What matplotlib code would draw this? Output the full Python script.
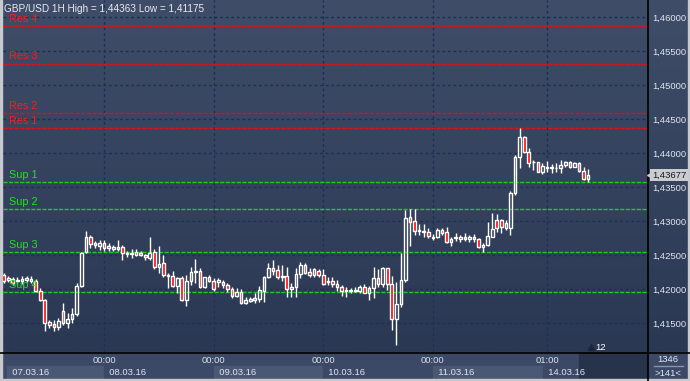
import numpy as np
import matplotlib.pyplot as plt
from matplotlib import transforms
from matplotlib.patches import Rectangle
from matplotlib.colors import LinearSegmentedColormap

plt.rcParams['font.family'] = ['Liberation Sans', 'DejaVu Sans']

# hourly GBP/USD candles, 07.03.16 - 14.03.16
opens = [
    1.42210, 1.42132, 1.42147, 1.42118, 1.42118, 1.42132, 1.42118, 1.42118, 1.41971, 1.41838,
    1.41515, 1.41485, 1.41441, 1.41672, 1.41500, 1.41563, 1.41632, 1.42040, 1.42540, 1.42760,
    1.42643, 1.42628, 1.42676, 1.42603, 1.42593, 1.42588, 1.42613, 1.42515, 1.42522, 1.42504,
    1.42529, 1.42496, 1.42456, 1.42540, 1.42319, 1.42382, 1.42191, 1.42187, 1.42040, 1.42162,
    1.41843, 1.42113, 1.42246, 1.42269, 1.42025, 1.42172, 1.42113, 1.42107, 1.42103, 1.42059,
    1.42000, 1.41897, 1.41960, 1.41790, 1.41828, 1.41838, 1.41848, 1.41975, 1.42172, 1.42304,
    1.42279, 1.42172, 1.42191, 1.41996, 1.42025, 1.42221, 1.42353, 1.42250, 1.42201, 1.42265,
    1.42201, 1.42103, 1.42118, 1.42069, 1.42025, 1.41966, 1.41966, 1.41966, 1.41966, 1.42025,
    1.41946, 1.42010, 1.42157, 1.42069, 1.42304, 1.42069, 1.41554, 1.41775, 1.42132, 1.43054,
    1.43004, 1.42853, 1.42843, 1.42834, 1.42754, 1.42760, 1.42868, 1.42843, 1.42687, 1.42746,
    1.42769, 1.42769, 1.42731, 1.42760, 1.42731, 1.42613, 1.42647, 1.42769, 1.43015, 1.43015,
    1.42893, 1.42893, 1.43416, 1.43937, 1.44231, 1.44019, 1.43863, 1.43863, 1.43725, 1.43775,
    1.43775, 1.43775, 1.43775, 1.43824, 1.43872, 1.43799, 1.43849, 1.43740, 1.43613]
highs = [
    1.42235, 1.42191, 1.42176, 1.42176, 1.42191, 1.42191, 1.42191, 1.42147, 1.42015, 1.41853,
    1.41549, 1.41544, 1.41574, 1.41794, 1.41647, 1.41721, 1.42088, 1.42544, 1.42857, 1.42798,
    1.42706, 1.42725, 1.42721, 1.42676, 1.42651, 1.42725, 1.42651, 1.42563, 1.42588, 1.42593,
    1.42559, 1.42515, 1.42760, 1.42593, 1.42628, 1.42496, 1.42235, 1.42269, 1.42172, 1.42187,
    1.42210, 1.42319, 1.42446, 1.42309, 1.42176, 1.42213, 1.42162, 1.42166, 1.42132, 1.42084,
    1.42034, 1.42010, 1.41996, 1.41887, 1.41878, 1.41937, 1.42044, 1.42191, 1.42387, 1.42427,
    1.42353, 1.42353, 1.42328, 1.42084, 1.42304, 1.42401, 1.42387, 1.42304, 1.42304, 1.42290,
    1.42290, 1.42181, 1.42172, 1.42132, 1.42059, 1.42025, 1.42010, 1.42034, 1.42059, 1.42074,
    1.42044, 1.42328, 1.42290, 1.42324, 1.42309, 1.42191, 1.42107, 1.42534, 1.43162, 1.43172,
    1.43172, 1.42956, 1.42956, 1.42893, 1.42809, 1.42893, 1.42893, 1.42907, 1.42769, 1.42828,
    1.42794, 1.42819, 1.42794, 1.42809, 1.42746, 1.42672, 1.42990, 1.43113, 1.43103, 1.43025,
    1.43015, 1.43446, 1.43971, 1.44363, 1.44250, 1.44069, 1.43897, 1.43872, 1.43857, 1.43887,
    1.43838, 1.43849, 1.43897, 1.43887, 1.43887, 1.43872, 1.43872, 1.43799, 1.43760]
lows = [
    1.42088, 1.42103, 1.42059, 1.42074, 1.42074, 1.42103, 1.42088, 1.41956, 1.41824, 1.41382,
    1.41426, 1.41382, 1.41397, 1.41471, 1.41426, 1.41500, 1.41603, 1.42029, 1.42530, 1.42603,
    1.42603, 1.42574, 1.42559, 1.42563, 1.42554, 1.42554, 1.42431, 1.42466, 1.42456, 1.42481,
    1.42481, 1.42431, 1.42431, 1.42299, 1.42235, 1.42172, 1.42015, 1.42025, 1.41941, 1.41819,
    1.41746, 1.42063, 1.42084, 1.42015, 1.42015, 1.42103, 1.41971, 1.42034, 1.42015, 1.41960,
    1.41863, 1.41878, 1.41779, 1.41779, 1.41813, 1.41798, 1.41813, 1.41813, 1.42157, 1.42206,
    1.42143, 1.42122, 1.41887, 1.41878, 1.41878, 1.42157, 1.42221, 1.42172, 1.42181, 1.42172,
    1.42059, 1.42059, 1.42034, 1.41975, 1.41897, 1.41887, 1.41946, 1.41960, 1.41946, 1.41937,
    1.41838, 1.41863, 1.42034, 1.42034, 1.41985, 1.41397, 1.41175, 1.41740, 1.42107, 1.42632,
    1.42794, 1.42794, 1.42769, 1.42746, 1.42721, 1.42746, 1.42794, 1.42681, 1.42632, 1.42710,
    1.42696, 1.42710, 1.42696, 1.42696, 1.42598, 1.42549, 1.42632, 1.42760, 1.42843, 1.42828,
    1.42868, 1.42794, 1.43382, 1.43775, 1.43996, 1.43799, 1.43750, 1.43721, 1.43691, 1.43725,
    1.43710, 1.43725, 1.43710, 1.43790, 1.43775, 1.43790, 1.43725, 1.43603, 1.43578]
closes = [
    1.42113, 1.42162, 1.42088, 1.42132, 1.42147, 1.42162, 1.42147, 1.41971, 1.41838, 1.41500,
    1.41478, 1.41441, 1.41525, 1.41500, 1.41563, 1.41632, 1.42040, 1.42537, 1.42760, 1.42666,
    1.42676, 1.42676, 1.42603, 1.42632, 1.42613, 1.42618, 1.42529, 1.42529, 1.42529, 1.42544,
    1.42496, 1.42466, 1.42529, 1.42319, 1.42368, 1.42201, 1.42210, 1.42040, 1.42162, 1.41843,
    1.42113, 1.42250, 1.42269, 1.42025, 1.42172, 1.42113, 1.41996, 1.42132, 1.42054, 1.41996,
    1.41897, 1.41960, 1.41790, 1.41838, 1.41848, 1.41863, 1.41985, 1.42172, 1.42304, 1.42269,
    1.42181, 1.42191, 1.41996, 1.42025, 1.42221, 1.42353, 1.42240, 1.42201, 1.42290, 1.42201,
    1.42069, 1.42122, 1.42069, 1.42025, 1.41975, 1.41985, 1.41985, 1.41993, 1.42025, 1.41946,
    1.42010, 1.42157, 1.42069, 1.42304, 1.42069, 1.41554, 1.41775, 1.42132, 1.43040, 1.42990,
    1.42857, 1.42868, 1.42857, 1.42775, 1.42769, 1.42868, 1.42828, 1.42696, 1.42735, 1.42769,
    1.42731, 1.42731, 1.42769, 1.42731, 1.42613, 1.42647, 1.42779, 1.42878, 1.42893, 1.42907,
    1.42975, 1.43416, 1.43937, 1.44231, 1.44019, 1.43857, 1.43872, 1.43725, 1.43809, 1.43790,
    1.43790, 1.43784, 1.43824, 1.43872, 1.43799, 1.43849, 1.43740, 1.43613, 1.43677]

res_names = ['Res 1', 'Res 2', 'Res 3', 'Res 4']
res_levels = [1.44365, 1.44593, 1.45316, 1.45868]
sup_names = ['Sup 1', 'Sup 2', 'Sup 3', 'Sup 4']
sup_levels = [1.43569, 1.43172, 1.42540, 1.41951]

yticks = [1.415, 1.420, 1.425, 1.430, 1.435, 1.440, 1.445, 1.450, 1.455, 1.460]
tick_idx = [22, 46, 70, 94, 119]
tick_lbl = ['00:00', '00:00', '00:00', '00:00', '01:00']
day_edges = [0.7, 22, 46, 70, 94, 118.2, 141]
day_lbl = ['07.03.16', '08.03.16', '09.03.16', '10.03.16', '11.03.16', '14.03.16']

W, H = 690, 381
fig = plt.figure(figsize=(6.9, 3.81), dpi=100)

# background layer in pixel coordinates
bg = fig.add_axes([0, 0, 1, 1])
cmap = LinearSegmentedColormap.from_list('bg', ['#3f4d69', '#2b3853'])
bg.imshow(np.linspace(0, 1, 256).reshape(-1, 1), cmap=cmap, extent=[0, W, 352, 0], aspect='auto')
bg.add_patch(Rectangle((0, 352), W, 29, color='#3c4966'))
bg.set_xlim(0, W)
bg.set_ylim(H, 0)
bg.axis('off')

ax = fig.add_axes([3 / W, 29 / H, 644 / W, 352 / H])
ax.patch.set_alpha(0)
ax.set_xlim(-0.15, 140.9)
ax.set_ylim(1.41074, 1.4625)
for s in ax.spines.values():
    s.set_visible(False)

x = np.arange(len(opens))
o = np.array(opens); h = np.array(highs); l = np.array(lows); c = np.array(closes)
up = c >= o
top = np.maximum(o, c); bot = np.minimum(o, c)

ax.vlines(x, top, h, color='white', lw=1, zorder=3)
ax.vlines(x, l, bot, color='white', lw=1, zorder=3)
ax.bar(x[up], (top - bot)[up], bottom=bot[up], width=0.58, facecolor='none',
       edgecolor='white', linewidth=1, zorder=3)
ax.bar(x[~up], (top - bot)[~up], bottom=bot[~up], width=0.58, facecolor='#ff0000',
       edgecolor='white', linewidth=1, zorder=3)

# grid
ax.set_xticks(tick_idx)
ax.set_xticklabels(tick_lbl)
ax.set_yticks(yticks)
ax.set_yticklabels([f'{v:.5f}'.replace('.', ',') for v in yticks])
ax.yaxis.tick_right()
ax.tick_params(axis='y', length=0, pad=3.5, labelsize=6.8, labelcolor='#dfe6ef')
ax.tick_params(axis='x', length=0, pad=3, labelsize=6.8, labelcolor='#d8e0ea')
ax.grid(True, color='#1b3055', linestyle=(0, (2, 2)), linewidth=1)
ax.set_axisbelow(True)

# support / resistance
for name, lv in zip(res_names, res_levels):
    ax.axhline(lv, color='#e31010', lw=1, linestyle=(0, (3, 1)), zorder=2)
    ax.annotate(name, xy=(0.0093, lv), xycoords=('axes fraction', 'data'), xytext=(0, 1.5),
                textcoords='offset points', color='#ff1a1a', fontsize=7.8, va='bottom', zorder=4)
for name, lv in zip(sup_names, sup_levels):
    ax.axhline(lv, color='#18d018', lw=1, linestyle=(0, (3, 1)), zorder=2)
    ax.annotate(name, xy=(0.0093, lv), xycoords=('axes fraction', 'data'), xytext=(0, 1.5),
                textcoords='offset points', color='#22e022', fontsize=7.8, va='bottom', zorder=4)

# date strip under the chart
tr = transforms.blended_transform_factory(ax.transData, bg.transData)
for k, lbl in enumerate(day_lbl):
    fc = '#4b5874' if k % 2 == 0 else '#3c4966'
    bg.add_patch(Rectangle((day_edges[k], 366), day_edges[k + 1] - day_edges[k], 13,
                           transform=tr, color=fc, clip_on=False))
    bg.text(day_edges[k], 372.5, '  ' + lbl, transform=tr, fontsize=6.8, color='#dfe6ef',
            va='center', ha='left')
bg.add_patch(Rectangle((579, 352), 68, 27, color='#27324b'))

# frame
bg.plot([0, W], [352.5, 352.5], color='black', lw=1.2)
bg.plot([647.5, 647.5], [0, H], color='black', lw=1.2)
bg.add_patch(Rectangle((0, 0), 2, H, color='#c6cacf'))
bg.add_patch(Rectangle((0, 379), W, 2, color='#c6cacf'))
bg.add_patch(Rectangle((688, 0), 2, H, color='#c6cacf'))

bg.text(668, 359, '1346', ha='center', va='center', fontsize=6.8, color='#e2e8f0')
bg.plot([654, 683], [366, 366], color='#8a95a8', lw=1)
bg.text(668, 373, '>141<', ha='center', va='center', fontsize=6.8, color='#e2e8f0')
bg.plot([591], [347], marker='^', ms=4, color='#1c2538')
bg.text(595, 348, '12', ha='left', va='center', fontsize=6.8, color='white')

# title and last price tag
title = f'GBP/USD 1H High = {max(highs):.5f} Low = {min(lows):.5f}'.replace('.', ',')
ax.text(4, 9, title, transform=bg.transData, fontsize=7.2, color='#e6ecf4',
        va='center', ha='left', zorder=10)
tb = transforms.blended_transform_factory(ax.transAxes, ax.transData)
ax.plot([1.004], [closes[-1]], marker='<', ms=5, color='#c9cdd2', transform=tb, clip_on=False, zorder=9)
ax.text(1.008, closes[-1], f'{closes[-1]:.5f}'.replace('.', ','), transform=tb, ha='left',
        va='center', fontsize=6.8, color='#1a1a1a', zorder=10, clip_on=False,
        bbox=dict(boxstyle='square,pad=0.2', fc='#c9cdd2', ec='none'))

fig.savefig('out.png', dpi=100)
